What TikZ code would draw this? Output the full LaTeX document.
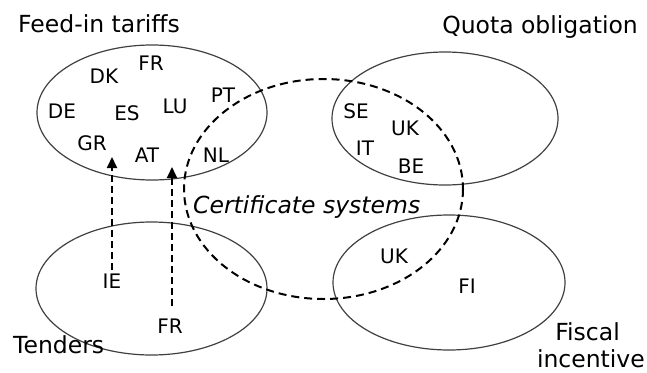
\documentclass[tikz,border=0pt]{standalone}
\usepackage{fontspec}
\setmainfont{DejaVu Sans}
\usetikzlibrary{arrows.meta}

\tikzset{
  group/.style={draw=black!75, line width=1.2pt},
  certset/.style={draw=black, line width=2pt, dash pattern=on 8pt off 5pt},
  title/.style={inner sep=0pt, font=\fontsize{23.5}{27}\selectfont},
  country/.style={inner sep=0pt, anchor=base, font=\fontsize{20}{23}\selectfont},
  moveto/.style={draw=black, line width=1.8pt, dash pattern=on 7pt off 4pt,
    -{Triangle[length=11pt,width=10pt]}},
}

\begin{document}
\begin{tikzpicture}[x=1pt, y=-1pt]
  \useasboundingbox (0,0) rectangle (647,372);

  % the four policy instruments
  \draw[group] (152,112.5) ellipse [x radius=115, y radius=67.5];
  \draw[group] (445,118.5) ellipse [x radius=113, y radius=66.5];
  \draw[group] (151.5,288.5) ellipse [x radius=115.5, y radius=66.5];
  \draw[group] (449,282.5) ellipse [x radius=116, y radius=67.5];

  % certificate systems overlap
  \draw[certset] (323.5,189) ellipse [x radius=139.5, y radius=110];

  % group titles
  \node[title, anchor=base west] (fit) at (18,32) {Feed-in tariffs};
  \node[title, anchor=base east] (quota) at (638,33) {Quota obligation};
  \node[title, anchor=base west] (tend) at (13,353) {Tenders};
  \node[title, anchor=base west] (cert) at (193,213) {\itshape Certificate systems};
  \node[title, anchor=base east] (fisc1) at (620,340) {Fiscal};
  \node[title, anchor=base east] (fisc2) at (645,367) {incentive};

  % feed-in tariff countries
  \node[country] (dk) at (104,83) {DK};
  \node[country] (fr) at (151,70) {FR};
  \node[country] (de) at (62,118) {DE};
  \node[country] (es) at (127,120) {ES};
  \node[country] (lu) at (175,113) {LU};
  \node[country] (pt) at (223,102) {PT};
  \node[country] (gr) at (92,150) {GR};
  \node[country] (at) at (147,162) {AT};
  \node[country] (nl) at (216,162) {NL};

  % quota obligation countries
  \node[country] (se) at (356,118) {SE};
  \node[country] (uka) at (405,135) {UK};
  \node[country] (it) at (365,155) {IT};
  \node[country] (be) at (411,173) {BE};

  % tenders
  \node[country] (ie) at (112,288) {IE};
  \node[country] (frt) at (170,333) {FR};

  % fiscal incentive
  \node[country] (ukb) at (394,263) {UK};
  \node[country] (fi) at (467,293) {FI};

  % moves from tenders to feed-in tariffs
  \coordinate (tipie) at (112,157);
  \coordinate (tipfr) at (172,167);
  \draw[moveto, shorten <=3pt] (ie.north) -- (tipie);
  \draw[moveto, shorten <=12pt] (frt.north -| tipfr) -- (tipfr);
\end{tikzpicture}
\end{document}
